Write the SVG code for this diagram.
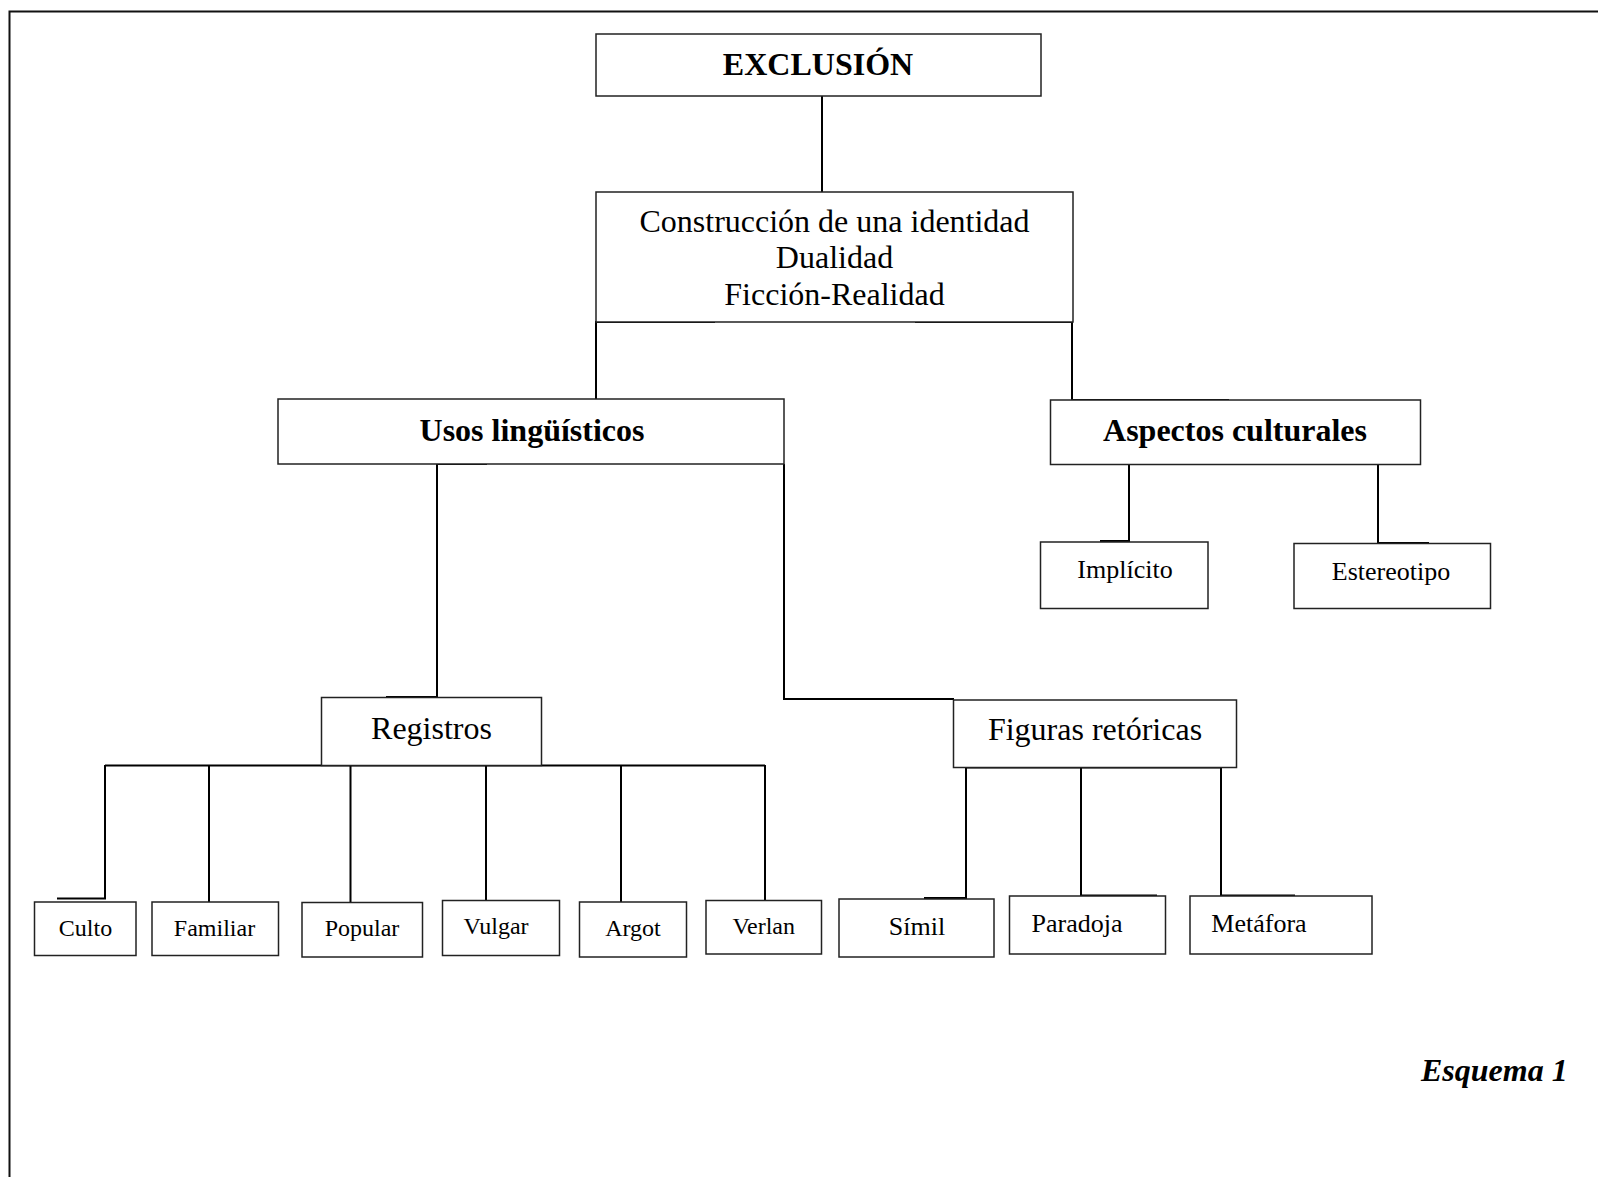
<svg xmlns="http://www.w3.org/2000/svg" width="1598" height="1177" viewBox="0 0 1598 1177">
<style>
.box{fill:#fff;stroke:#222;stroke-width:1.5}
.c{fill:none;stroke:#000;stroke-width:2}
text{font-family:"Liberation Serif","Times New Roman",serif;fill:#000;text-anchor:middle}
.b{font-weight:bold;font-size:32px}
.m{font-size:32px}
.s{font-size:24px}
.t{font-size:26px}
</style>
<rect width="1598" height="1177" fill="#fff"/>
<path d="M9.5,1177 V11.5 H1598" fill="none" stroke="#111" stroke-width="2"/>
<g id="connectors">
<path class="c" d="M822,96 V192"/>
<path class="c" d="M715,322 H596 V399"/>
<path class="c" d="M915,322 H1072 V400 H1229"/>
<path class="c" d="M487,464 H437 V697 H386"/>
<path class="c" d="M784,464 V699 H954"/>
<path class="c" d="M105,765.5 H765"/>
<path class="c" d="M105,765 V898.5 H57"/>
<path class="c" d="M209,765 V902"/>
<path class="c" d="M350.5,765 V903 H322"/>
<path class="c" d="M486,765 V900.5"/>
<path class="c" d="M621,765 V902"/>
<path class="c" d="M765,765 V900.5"/>
<path class="c" d="M966,767.5 H1221"/>
<path class="c" d="M966,767 V898 H924"/>
<path class="c" d="M1081,767 V895.5 H1157"/>
<path class="c" d="M1221,767 V895.5 H1295"/>
<path class="c" d="M1050,464 H1129 V541 H1100"/>
<path class="c" d="M1326,464 H1378 V543 H1429"/>
</g>
<g id="n-exclusion"><rect class="box" x="596" y="34" width="445" height="62"/><text class="b" x="818" y="75">EXCLUSIÓN</text></g>
<g id="n-construccion"><rect class="box" x="596" y="192" width="477" height="130"/>
<text class="m" x="834.5" y="232">Construcción de una identidad</text>
<text class="m" x="834.5" y="268">Dualidad</text>
<text class="m" x="834.5" y="305">Ficción-Realidad</text></g>
<g id="n-usos"><rect class="box" x="278" y="399" width="506" height="65"/><text class="b" x="532" y="441">Usos lingüísticos</text></g>
<g id="n-aspectos"><rect class="box" x="1050.5" y="400" width="370" height="64.5"/><text class="b" x="1235" y="441">Aspectos culturales</text></g>
<g id="n-implicito"><rect class="box" x="1040.5" y="542" width="167.5" height="66.5"/><text class="t" x="1125" y="578">Implícito</text></g>
<g id="n-estereotipo"><rect class="box" x="1294" y="543.5" width="196.5" height="65"/><text class="t" x="1391" y="580">Estereotipo</text></g>
<g id="n-registros"><rect class="box" x="321.5" y="697.5" width="220" height="68"/><text class="m" x="431.5" y="739">Registros</text></g>
<g id="n-figuras"><rect class="box" x="953.5" y="700" width="283" height="67.5"/><text class="m" x="1095" y="739.5">Figuras retóricas</text></g>
<g id="n-culto"><rect class="box" x="34.5" y="902" width="101.5" height="53.5"/><text class="s" x="85.5" y="936">Culto</text></g>
<g id="n-familiar"><rect class="box" x="152" y="902" width="126.5" height="53.5"/><text class="s" x="214.5" y="936">Familiar</text></g>
<g id="n-popular"><rect class="box" x="302" y="902.5" width="120.5" height="54.5"/><text class="s" x="362" y="936">Popular</text></g>
<g id="n-vulgar"><rect class="box" x="442.5" y="900.5" width="117" height="55"/><text class="s" x="496" y="934">Vulgar</text></g>
<g id="n-argot"><rect class="box" x="579.5" y="902" width="107" height="55"/><text class="s" x="633" y="936">Argot</text></g>
<g id="n-verlan"><rect class="box" x="706" y="900.5" width="115.5" height="53.5"/><text class="s" x="763.7" y="934">Verlan</text></g>
<g id="n-simil"><rect class="box" x="839" y="899" width="155" height="58"/><text class="t" x="917" y="935">Símil</text></g>
<g id="n-paradoja"><rect class="box" x="1009.5" y="896" width="156" height="58"/><text class="t" x="1077" y="932">Paradoja</text></g>
<g id="n-metafora"><rect class="box" x="1190" y="896" width="182" height="58"/><text class="t" x="1259" y="932">Metáfora</text></g>
<g id="caption"><text x="1421" y="1081" style="text-anchor:start;font-size:32px;font-weight:bold;font-style:italic">Esquema 1</text></g>
</svg>
